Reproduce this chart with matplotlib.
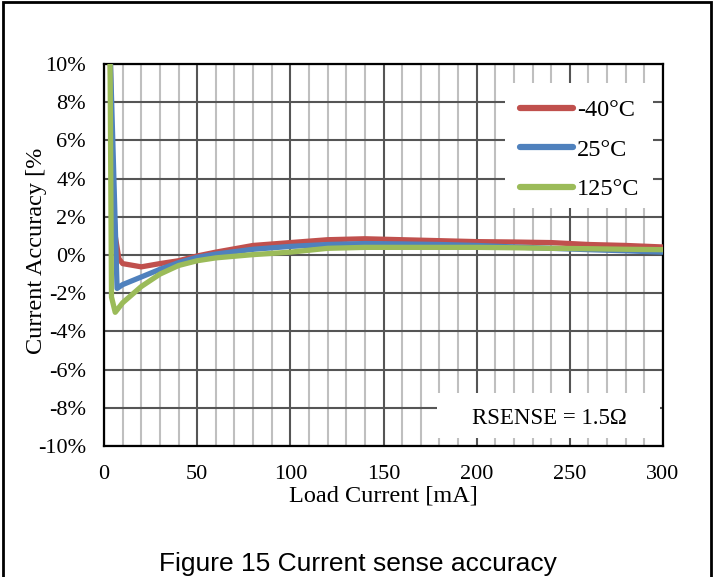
import matplotlib
matplotlib.use("Agg")
import matplotlib.pyplot as plt
from matplotlib.patches import Rectangle
from matplotlib.ticker import MultipleLocator, FuncFormatter

# data (load current mA, accuracy %)
red_x = [2, 4, 5, 6, 8, 10, 20, 30, 40, 50, 60, 80, 100, 120, 140, 160, 180, 200, 220, 240, 260, 280, 300]
red_y = [20, 6.0, 3.0, 1.0, -0.2, -0.45, -0.62, -0.45, -0.3, -0.05, 0.15, 0.5, 0.65, 0.8, 0.85, 0.8, 0.75, 0.7, 0.68, 0.65, 0.55, 0.5, 0.42]
blue_x = [2, 7, 10, 20, 30, 40, 50, 60, 80, 100, 120, 140, 160, 180, 200, 220, 240, 260, 280, 300]
blue_y = [15, -1.75, -1.55, -1.15, -0.75, -0.4, -0.12, 0.05, 0.3, 0.45, 0.55, 0.6, 0.58, 0.55, 0.5, 0.42, 0.35, 0.28, 0.22, 0.15]
green_x = [3, 4, 6, 8, 10, 20, 30, 40, 50, 60, 80, 100, 120, 140, 160, 180, 200, 220, 240, 260, 280, 300]
green_y = [14, -2.2, -3.0, -2.75, -2.5, -1.65, -1.0, -0.55, -0.3, -0.15, 0.02, 0.15, 0.35, 0.4, 0.4, 0.4, 0.4, 0.38, 0.35, 0.33, 0.3, 0.28]
labels = ["-40°C", "25°C", "125°C"]
colors = ["#C0504D", "#4F81BD", "#9BBB59"]

serif = "Liberation Serif"

fig = plt.figure(figsize=(7.15, 5.77), dpi=100)
ax = fig.add_axes([0.1455, 0.2270, 0.7818, 0.6621])

# outer frame of the figure (bottom edge runs off the picture)
fig.patches.append(Rectangle((0.004, -0.05), 0.991, 1.047, transform=fig.transFigure,
                             fill=False, edgecolor="black", linewidth=2))

series = [(red_x, red_y), (blue_x, blue_y), (green_x, green_y)]
for (xs, ys), lab, c in zip(series, labels, colors):
    ax.plot(xs, ys, color=c, linewidth=3.8, label=lab, zorder=3,
            solid_joinstyle="round", solid_capstyle="round")

ax.set_xlim(0, 300)
ax.set_ylim(-10, 10)
ax.xaxis.set_major_locator(MultipleLocator(50))
ax.xaxis.set_minor_locator(MultipleLocator(10))
ax.yaxis.set_major_locator(MultipleLocator(2))
ax.yaxis.set_major_formatter(FuncFormatter(lambda v, p: "%d%%" % round(v)))

ax.set_axisbelow(True)
ax.grid(which="minor", axis="x", color="#bfbfbf", linewidth=1.5)
ax.grid(which="major", axis="both", color="#555555", linewidth=1.5)
ax.tick_params(which="both", length=0)
ax.tick_params(axis="x", pad=14, labelsize=16)
ax.tick_params(axis="y", pad=13, labelsize=16)
for t in ax.get_xticklabels() + ax.get_yticklabels():
    t.set_fontfamily(serif)
for s in ax.spines.values():
    s.set_linewidth(1.6)
    s.set_color("black")

ax.set_xlabel("Load Current [mA]", fontsize=17.5, fontfamily=serif, labelpad=1)
fig.text(37 / 715, 1 - 251 / 577, "Current Accuracy [%", rotation=90,
         ha="center", va="center", fontsize=17.5, fontfamily=serif)

# white boxes for legend and annotation
ax.add_patch(Rectangle((0.717, 0.623), 0.265, 0.327, transform=ax.transAxes,
                       facecolor="white", edgecolor="none", zorder=1))
ax.add_patch(Rectangle((0.596, 0.021), 0.399, 0.118, transform=ax.transAxes,
                       facecolor="white", edgecolor="none", zorder=1))
ax.text(0.797, 0.071, "RSENSE = 1.5Ω", transform=ax.transAxes, ha="center", va="center",
        fontsize=16.5, fontfamily=serif, zorder=4)

leg = ax.legend(loc="center left", bbox_to_anchor=(0.744, 0.776), frameon=False,
                borderaxespad=0, borderpad=0, handlelength=2.2, handletextpad=0.15,
                labelspacing=0.72, prop={"family": serif, "size": 17.5})
for h in leg.get_lines():
    h.set_linewidth(4.5)

fig.text(0.5, 1 - 564 / 577, "Figure 15 Current sense accuracy", ha="center", va="center",
         fontsize=19, fontfamily="Liberation Sans")

fig.savefig("out.png", dpi=100)
